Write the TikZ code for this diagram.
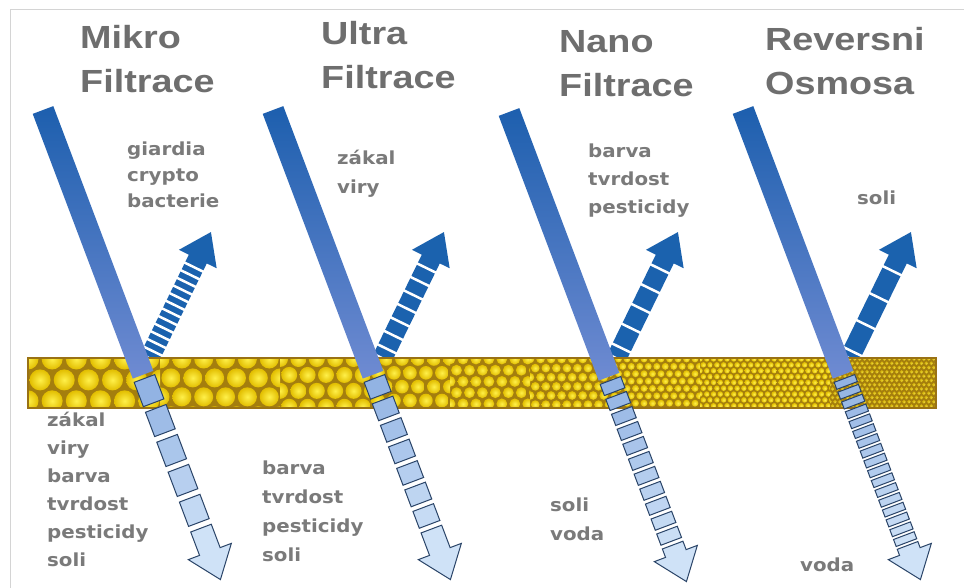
\documentclass[tikz,border=0pt]{standalone}
\usepackage{fontspec}
\newfontfamily\titlefont[FakeStretch=1.18]{Liberation Sans}
\newfontfamily\labelfont[FakeStretch=1.1]{DejaVu Sans}

\definecolor{titlegray}{HTML}{6E6E6E}
\definecolor{labelgray}{HTML}{7A7A7A}
\definecolor{framegray}{HTML}{D4D4D4}
\definecolor{bartop}{HTML}{1D5FAE}
\definecolor{barbot}{HTML}{6F8BD2}
\definecolor{segtop}{HTML}{92B3E3}
\definecolor{segbot}{HTML}{CFE2F7}
\definecolor{segedge}{HTML}{2A4468}
\definecolor{upblue}{HTML}{1B62AE}
\definecolor{memedge}{HTML}{9A7214}
\definecolor{memfill}{HTML}{A47E0E}
\definecolor{cellin}{HTML}{FFF04A}
\definecolor{cellout}{HTML}{E2BE00}

% hexagonal packing of pores between x=#1 and x=#2, radius #3, pitch factor #4
\newcommand\cellzone[4]{%
  \begin{scope}
    \clip (#1,359) rectangle (#2,407);
    \pgfmathsetmacro\cellpitch{#4*#3}
    \pgfmathsetmacro\rowpitch{0.866*\cellpitch}
    \pgfmathtruncatemacro\ncols{(#2-#1)/\cellpitch+1}
    \pgfmathtruncatemacro\nrows{52/\rowpitch+1}
    \foreach \j in {0,...,\nrows}{
      \foreach \i in {0,...,\ncols}{
        \pgfmathsetmacro\cellx{#1+(\i+0.5*mod(\j,2))*\cellpitch}
        \pgfmathsetmacro\celly{359+\j*\rowpitch}
        \shade[inner color=cellin, outer color=cellout] (\cellx,\celly) circle (#3);
      }}
  \end{scope}}

% feed line: start (#1,#2), #3 permeate segments, pitch #4, gap #5
\newcommand\feedline[5]{%
  \begin{scope}[shift={(#1,#2)}, rotate=-69.3]
    \shade[top color=bartop, bottom color=barbot] (0,-11) rectangle (283,11);
    \pgfmathtruncatemacro\seglast{#3-1}
    \foreach \k in {0,...,\seglast}{
      \pgfmathsetmacro\sega{287+\k*#4}
      \pgfmathsetmacro\segb{\sega+#4-#5}
      \pgfmathtruncatemacro\segmix{100-100*\k/#3}
      \filldraw[fill=segtop!\segmix!segbot, draw=segedge, line width=1]
        (\sega,-11) rectangle (\segb,11);
    }
    \pgfmathsetmacro\tipstart{287+#3*#4}
    \filldraw[fill=segbot, draw=segedge, line width=1, line join=miter]
      (\tipstart,-11) -- (472,-11) -- (472,-23) -- (502,0) -- (472,23)
      -- (472,11) -- (\tipstart,11) -- cycle;
  \end{scope}}

% rejected fraction: base x #1, stripe positions #2
\newcommand\rejectarrow[2]{%
  \begin{scope}[shift={(#1,357)}, rotate=64]
    \fill[upblue] (0,-10) -- (109,-10) -- (109,-21) -- (139,0) -- (109,21)
      -- (109,10) -- (0,10) -- cycle;
    \foreach \sx in {#2}{\draw[white, line width=2.5] (\sx,-11) -- (\sx,11);}
  \end{scope}}

\begin{document}
\begin{tikzpicture}[x=1pt,y=-1pt,
  title/.style={font=\titlefont\bfseries\fontsize{32}{44}\selectfont,
    text=titlegray, align=left, anchor=north west, inner sep=0pt},
  lbl/.style={font=\labelfont\bfseries\fontsize{18}{#1}\selectfont,
    text=labelgray, align=left, anchor=north west, inner sep=0pt},
  lbl/.default=28]
\useasboundingbox (0,0) rectangle (964,588);
\fill[white] (0,0) rectangle (964,588);
\draw[framegray, line width=1] (10,588) -- (10,10) -- (964,10);

% rejected fractions
\rejectarrow{150}{100,91.5,...,4}
\rejectarrow{383}{99,84,...,4}
\rejectarrow{617}{98,76,...,4}
\rejectarrow{850}{96,66,...,4}

% membrane with pores shrinking to the right
\fill[memfill] (28,358) rectangle (936,408);
\cellzone{28}{160}{10.5}{2.3}
\cellzone{160}{280}{9.5}{2.3}
\cellzone{280}{370}{8}{2.3}
\cellzone{370}{450}{6.8}{2.35}
\cellzone{450}{530}{5.4}{2.4}
\cellzone{530}{610}{4.3}{2.45}
\cellzone{610}{700}{3.4}{2.5}
\cellzone{700}{830}{2.7}{2.5}
\begin{scope}[opacity=0.75]
\cellzone{830}{936}{1.9}{2.6}
\end{scope}
\draw[memedge, line width=2] (28,358) rectangle (936,408);

% feed lines and permeate
\feedline{43}{110}{5}{32}{6}
\feedline{273}{110}{7}{23}{5}
\feedline{509}{112}{11}{16}{4}
\feedline{743}{110}{17}{10.5}{3}

% titles
\node[title] (t1) at (80,25) {Mikro\\Filtrace};
\node[title] (t2) at (321,21) {Ultra\\Filtrace};
\node[title] (t3) at (559,30) {Nano\\Filtrace};
\node[title] (t4) at (765,27) {Reversni\\Osmosa};

% retained and passed substances
\node[lbl=26] (c1u) at (127,142) {giardia\\crypto\\bacterie};
\node[lbl=28] (c1d) at (47,412) {zákal\\viry\\barva\\tvrdost\\pesticidy\\soli};
\node[lbl=29] (c2u) at (337,150) {zákal\\viry};
\node[lbl=29] (c2d) at (262,461) {barva\\tvrdost\\pesticidy\\soli};
\node[lbl=28] (c3u) at (588,144) {barva\\tvrdost\\pesticidy};
\node[lbl=29] (c3d) at (550,498) {soli\\voda};
\node[lbl] (c4u) at (857,191) {soli};
\node[lbl] (c4d) at (800,558) {voda};
\end{tikzpicture}
\end{document}
